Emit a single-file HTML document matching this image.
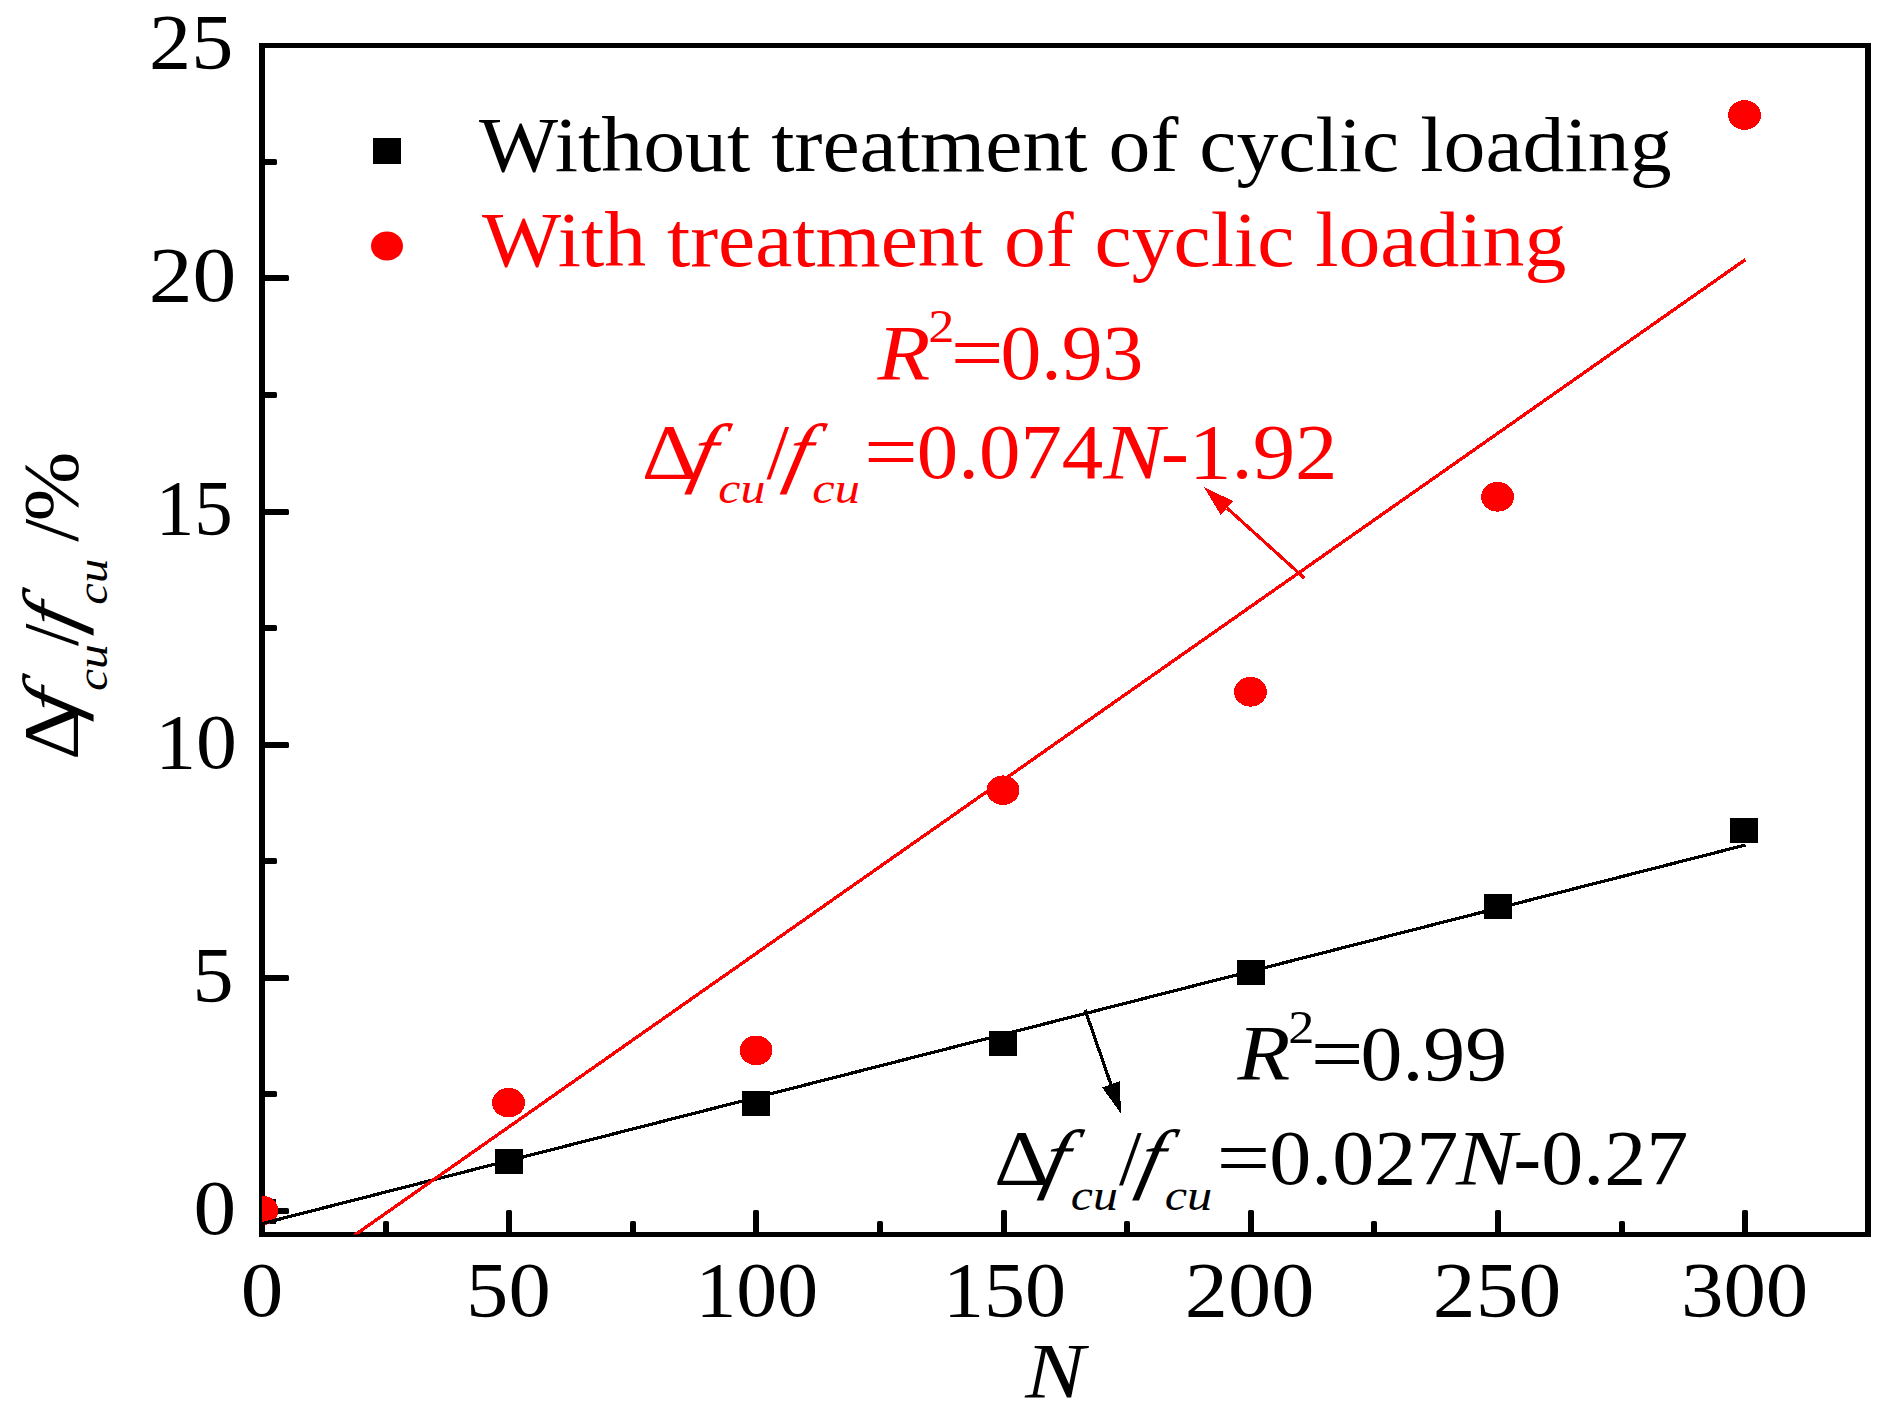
<!DOCTYPE html>
<html><head><meta charset="utf-8"><title>chart</title>
<style>html,body{margin:0;padding:0;background:#fff;overflow:hidden}svg{display:block}</style></head>
<body>
<svg width="1900" height="1415" viewBox="0 0 1900 1415" font-family='"Liberation Serif", serif'>
<rect width="1900" height="1415" fill="#fff"/>
<defs><clipPath id="cp"><rect x="262" y="45.5" width="1606" height="1189"/></clipPath></defs>
<g shape-rendering="crispEdges">
<rect x="259.00" y="43.00" width="6.00" height="1194.00" fill="#000"/>
<rect x="1865.00" y="43.00" width="6.00" height="1194.00" fill="#000"/>
<rect x="259.00" y="43.00" width="1612.00" height="5.00" fill="#000"/>
<rect x="259.00" y="1232.00" width="1612.00" height="5.00" fill="#000"/>
</g>
<rect x="261.00" y="1208.00" width="28.00" height="6.00" rx="1.6"/>
<rect x="261.00" y="1091.00" width="16.00" height="6.00" rx="1.6"/>
<rect x="261.00" y="975.00" width="28.00" height="6.00" rx="1.6"/>
<rect x="261.00" y="858.00" width="16.00" height="6.00" rx="1.6"/>
<rect x="261.00" y="742.00" width="28.00" height="6.00" rx="1.6"/>
<rect x="261.00" y="625.00" width="16.00" height="6.00" rx="1.6"/>
<rect x="261.00" y="509.00" width="28.00" height="6.00" rx="1.6"/>
<rect x="261.00" y="392.00" width="16.00" height="6.00" rx="1.6"/>
<rect x="261.00" y="275.00" width="28.00" height="6.00" rx="1.6"/>
<rect x="261.00" y="159.00" width="16.00" height="6.00" rx="1.6"/>
<rect x="259.00" y="1210.00" width="6.00" height="25.00" rx="1.6"/>
<rect x="383.00" y="1221.00" width="6.00" height="14.00" rx="1.6"/>
<rect x="506.00" y="1210.00" width="6.00" height="25.00" rx="1.6"/>
<rect x="630.00" y="1221.00" width="6.00" height="14.00" rx="1.6"/>
<rect x="753.00" y="1210.00" width="6.00" height="25.00" rx="1.6"/>
<rect x="877.00" y="1221.00" width="6.00" height="14.00" rx="1.6"/>
<rect x="1001.00" y="1210.00" width="6.00" height="25.00" rx="1.6"/>
<rect x="1124.00" y="1221.00" width="6.00" height="14.00" rx="1.6"/>
<rect x="1248.00" y="1210.00" width="6.00" height="25.00" rx="1.6"/>
<rect x="1371.00" y="1221.00" width="6.00" height="14.00" rx="1.6"/>
<rect x="1495.00" y="1210.00" width="6.00" height="25.00" rx="1.6"/>
<rect x="1619.00" y="1221.00" width="6.00" height="14.00" rx="1.6"/>
<rect x="1742.00" y="1210.00" width="6.00" height="25.00" rx="1.6"/>
<g clip-path="url(#cp)" shape-rendering="crispEdges">
<rect x="248.00" y="1198.50" width="28.00" height="25.00" fill="#000"/>
<rect x="495.00" y="1148.80" width="28.00" height="25.00" fill="#000"/>
<rect x="742.10" y="1091.00" width="28.00" height="25.00" fill="#000"/>
<rect x="989.20" y="1030.80" width="28.00" height="25.00" fill="#000"/>
<rect x="1237.20" y="960.30" width="28.00" height="25.00" fill="#000"/>
<rect x="1483.80" y="894.40" width="28.00" height="25.00" fill="#000"/>
<rect x="1730.00" y="817.90" width="28.00" height="25.00" fill="#000"/>
<ellipse cx="262" cy="1210.5" rx="16.4" ry="14.8" fill="#f00"/>
<ellipse cx="508.5" cy="1102.6" rx="16.4" ry="14.8" fill="#f00"/>
<ellipse cx="756.1" cy="1050.4" rx="16.4" ry="14.8" fill="#f00"/>
<ellipse cx="1003" cy="790.2" rx="16.4" ry="14.8" fill="#f00"/>
<ellipse cx="1250.5" cy="691.8" rx="16.4" ry="14.8" fill="#f00"/>
<ellipse cx="1497.6" cy="496.8" rx="16.4" ry="14.8" fill="#f00"/>
<ellipse cx="1744.6" cy="115" rx="16.4" ry="14.8" fill="#f00"/>
<line x1="262" y1="1223.6" x2="1745.5" y2="845" stroke="#000" stroke-width="3.2"/>
<line x1="345.5" y1="1241.5" x2="1745.5" y2="259.5" stroke="#f00" stroke-width="3.3"/>
</g>
<text transform="translate(149.02,68.30) scale(1.0811,1.0000)" font-size="78">25</text>
<text transform="translate(148.67,301.40) scale(1.1231,1.0000)" font-size="78">20</text>
<text transform="translate(155.63,534.40) scale(0.9875,1.0000)" font-size="78">15</text>
<text transform="translate(155.23,767.50) scale(1.0476,1.0000)" font-size="78">10</text>
<text transform="translate(192.56,1000.60) scale(1.0540,1.0000)" font-size="78">5</text>
<text transform="translate(193.52,1234.40) scale(1.0939,1.0000)" font-size="78">0</text>
<text transform="translate(240.73,1316.20) scale(1.0909,1.0000)" font-size="78">0</text>
<text transform="translate(466.12,1316.20) scale(1.0851,1.0000)" font-size="78">50</text>
<text transform="translate(695.42,1316.20) scale(1.0490,1.0000)" font-size="78">100</text>
<text transform="translate(942.89,1316.20) scale(1.0536,1.0000)" font-size="78">150</text>
<text transform="translate(1184.83,1316.20) scale(1.1068,1.0000)" font-size="78">200</text>
<text transform="translate(1432.86,1316.20) scale(1.0968,1.0000)" font-size="78">250</text>
<text transform="translate(1680.91,1316.20) scale(1.0893,1.0000)" font-size="78">300</text>
<text transform="translate(1025.37,1397.00) scale(1.1464,1.0000)" font-size="78" font-style="italic">N</text>
<text transform="translate(77.00,759.97) rotate(-90) scale(1.0915,1.0000)" font-size="78">Δ</text>
<text transform="translate(77.00,718.67) rotate(-90) scale(1.0921,1.0000) skewX(-12)" font-size="78" font-style="italic">f</text>
<text transform="translate(107.20,690.95) rotate(-90) scale(1.1032,1.0000)" font-size="45" font-style="italic">cu</text>
<text transform="translate(77.00,646.00) rotate(-90) scale(1.0372,1.0000)" font-size="78">/</text>
<text transform="translate(77.00,632.78) rotate(-90) scale(1.0899,1.0000) skewX(-12)" font-size="78" font-style="italic">f</text>
<text transform="translate(107.20,604.72) rotate(-90) scale(1.0828,1.0000)" font-size="45" font-style="italic">cu</text>
<text transform="translate(77.00,541.80) rotate(-90) scale(1.0651,1.0000)" font-size="78">/</text>
<text transform="translate(77.00,521.24) rotate(-90) scale(1.0706,1.0000)" font-size="78">%</text>
<rect x="373.00" y="138.00" width="28.00" height="26.00" fill="#000"/>
<ellipse cx="387" cy="246" rx="16" ry="14.5" fill="#f00"/>
<text transform="translate(479.00,171.00) scale(1.0745,1.0000)" font-size="78">Without treatment of cyclic loading</text>
<text transform="translate(482.00,266.00) scale(1.0733,1.0000)" font-size="78" fill="#f00">With treatment of cyclic loading</text>
<text transform="translate(877.45,378.60) scale(1.1080,1.0000)" font-size="78" fill="#f00" font-style="italic">R</text>
<text transform="translate(928.33,341.80) scale(1.1351,1.0000)" font-size="46" fill="#f00">2</text>
<text transform="translate(950.70,378.80) scale(1.2000,1.0000)" font-size="78" fill="#f00">=</text>
<text transform="translate(1000.56,378.80) scale(1.0467,1.0000)" font-size="78" fill="#f00">0.93</text>
<text transform="translate(641.65,478.00) scale(1.1164,1.0000)" font-size="78" fill="#f00">Δ</text>
<text transform="translate(687.22,478.00) scale(1.0899,1.0000) skewX(-12)" font-size="78" fill="#f00" font-style="italic">f</text>
<text transform="translate(718.33,503.40) scale(1.1108,1.0000)" font-size="45" fill="#f00" font-style="italic">cu</text>
<text transform="translate(766.60,478.00) scale(1.0419,1.0000)" font-size="78" fill="#f00">/</text>
<text transform="translate(782.60,478.00) scale(1.0809,1.0000) skewX(-12)" font-size="78" fill="#f00" font-style="italic">f</text>
<text transform="translate(812.32,503.40) scale(1.1210,1.0000)" font-size="45" fill="#f00" font-style="italic">cu</text>
<text transform="translate(864.10,478.00) scale(1.2248,1.0000)" font-size="78" fill="#f00">=</text>
<text transform="translate(916.81,478.00) scale(1.0628,1.0000)" font-size="78" fill="#f00">0.074</text>
<text transform="translate(1103.58,478.00) scale(1.1607,1.0000)" font-size="78" fill="#f00" font-style="italic">N</text>
<text transform="translate(1160.73,478.00) scale(1.0886,1.0000)" font-size="78" fill="#f00">-1.92</text>
<text transform="translate(1237.45,1079.40) scale(1.1080,1.0000)" font-size="78" font-style="italic">R</text>
<text transform="translate(1288.33,1042.60) scale(1.1351,1.0000)" font-size="46">2</text>
<text transform="translate(1310.70,1079.60) scale(1.2000,1.0000)" font-size="78">=</text>
<text transform="translate(1360.48,1079.60) scale(1.0749,1.0000)" font-size="78">0.99</text>
<text transform="translate(994.05,1184.40) scale(1.1164,1.0000)" font-size="78">Δ</text>
<text transform="translate(1039.62,1184.40) scale(1.0899,1.0000) skewX(-12)" font-size="78" font-style="italic">f</text>
<text transform="translate(1070.73,1209.80) scale(1.1108,1.0000)" font-size="45" font-style="italic">cu</text>
<text transform="translate(1119.00,1184.40) scale(1.0419,1.0000)" font-size="78">/</text>
<text transform="translate(1135.00,1184.40) scale(1.0809,1.0000) skewX(-12)" font-size="78" font-style="italic">f</text>
<text transform="translate(1164.72,1209.80) scale(1.1210,1.0000)" font-size="45" font-style="italic">cu</text>
<text transform="translate(1216.50,1184.40) scale(1.2248,1.0000)" font-size="78">=</text>
<text transform="translate(1269.16,1184.40) scale(1.0784,1.0000)" font-size="78">0.027</text>
<text transform="translate(1455.98,1184.40) scale(1.1607,1.0000)" font-size="78" font-style="italic">N</text>
<text transform="translate(1513.16,1184.40) scale(1.0785,1.0000)" font-size="78">-0.27</text>
<g shape-rendering="crispEdges">
<line x1="1304.4" y1="578.1" x2="1227.0" y2="508.0" stroke="#f00" stroke-width="3.2"/>
<polygon points="1204.0,487.2 1233.2,501.1 1220.7,514.9" fill="#f00"/>
<line x1="1085.1" y1="1009.8" x2="1110.9" y2="1084.4" stroke="#000" stroke-width="3.2"/>
<polygon points="1121.0,1113.7 1102.1,1087.4 1119.7,1081.4" fill="#000"/>
</g>
</svg>
</body></html>
